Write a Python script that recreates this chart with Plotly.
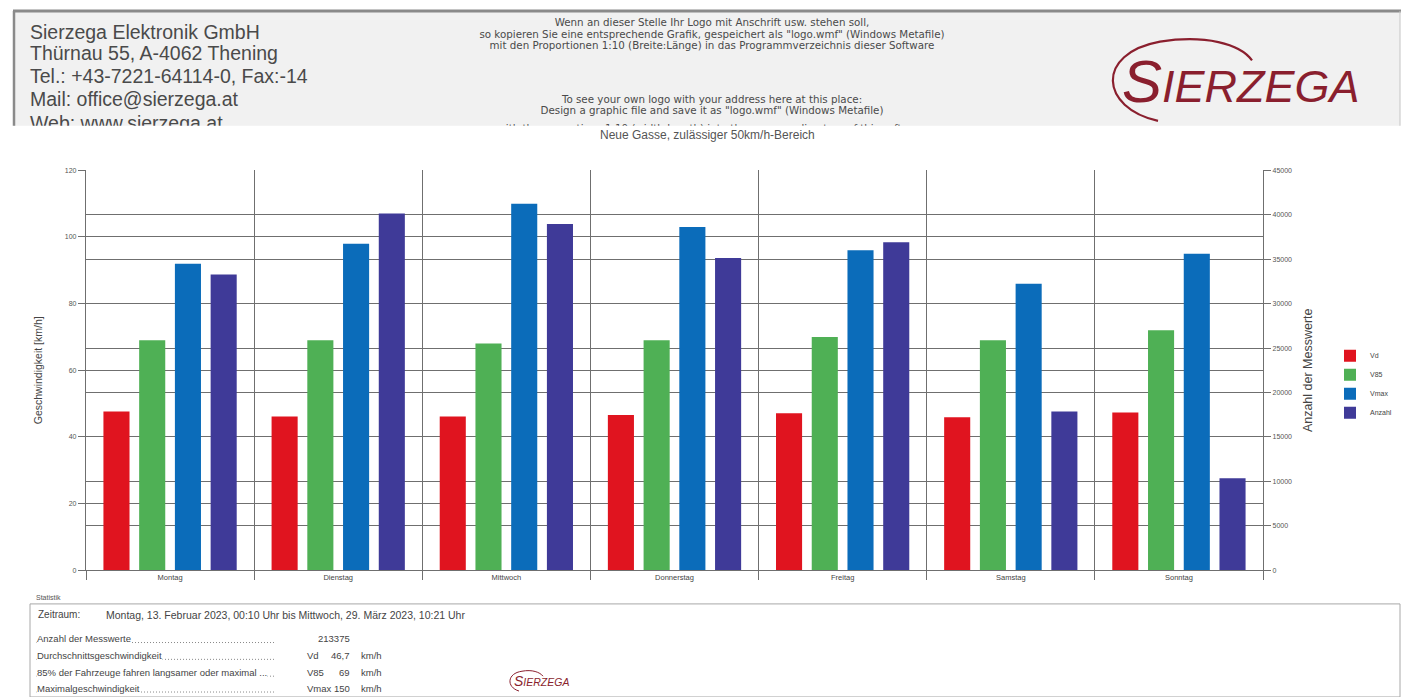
import plotly.graph_objects as go

W, H = 1410, 697

# ---------------- data ----------------
days = ["Montag", "Dienstag", "Mittwoch", "Donnerstag", "Freitag", "Samstag", "Sonntag"]
vd = [47.6, 46.1, 46.1, 46.6, 47.1, 45.9, 47.3]
v85 = [69, 69, 68, 69, 70, 69, 72]
vmax = [92, 98, 110, 103, 96, 86, 95]
anzahl = [33270, 40130, 38950, 35120, 36900, 17860, 10360]

series_names = ["Vd", "V85", "Vmax", "Anzahl"]
series_colors = ["#e0141f", "#4fb055", "#0b6cba", "#3f3a98"]

header_left = ["Sierzega Elektronik GmbH", "Thürnau 55, A-4062 Thening",
               "Tel.: +43-7221-64114-0, Fax:-14", "Mail: office@sierzega.at",
               "Web: www.sierzega.at"]
header_mid = ["Wenn an dieser Stelle Ihr Logo mit Anschrift usw. stehen soll,",
              "so kopieren Sie eine entsprechende Grafik, gespeichert als \"logo.wmf\" (Windows Metafile)",
              "mit den Proportionen 1:10 (Breite:Länge) in das Programmverzeichnis dieser Software",
              "To see your own logo with your address here at this place:",
              "Design a graphic file and save it as \"logo.wmf\" (Windows Metafile)",
              "with the proportions 1:10 (width:length) into the program directory of this software"]
chart_title = "Neue Gasse, zulässiger 50km/h-Bereich"

stat_period_label = "Zeitraum:"
stat_period = "Montag, 13. Februar 2023, 00:10 Uhr bis Mittwoch, 29. März 2023, 10:21 Uhr"
stat_labels = ["Anzahl der Messwerte", "Durchschnittsgeschwindigkeit",
               "85% der Fahrzeuge fahren langsamer oder maximal ...", "Maximalgeschwindigkeit"]
stat_symbols = ["", "Vd", "V85", "Vmax"]
stat_values = ["213375", "46,7", "69", "150"]
stat_units = ["", "km/h", "km/h", "km/h"]

FONT = "Liberation Sans"
LOGO_RED = "#8a1f2e"


def px(x):
    return x / W


def py(y):
    return 1 - y / H


fig = go.Figure()

# ---------------- bars ----------------
vals = [vd, v85, vmax, anzahl]
for i, (name, col, v) in enumerate(zip(series_names, series_colors, vals)):
    fig.add_trace(go.Bar(
        x=days, y=v, name=name, marker=dict(color=col, line=dict(width=0)),
        yaxis="y2" if name == "Anzahl" else "y",
        offsetgroup=str(i), alignmentgroup="g",
        hovertemplate=name + ": %{y}<extra></extra>",
    ))

# ---------------- header text (clipped subplot) ----------------
fig.add_trace(go.Scatter(
    x=[30] * len(header_left), y=[30, 52, 75, 98, 122], text=header_left,
    mode="text", textposition="middle right",
    textfont=dict(family=FONT, size=19.5, color="#4a4a4a"),
    xaxis="x3", yaxis="y3", showlegend=False, hoverinfo="skip", cliponaxis=True,
))
fig.add_trace(go.Scatter(
    x=[712] * len(header_mid), y=[20, 31.5, 43, 97, 108.5, 127], text=header_mid,
    mode="text", textposition="middle center",
    textfont=dict(family="DejaVu Sans", size=10.3, color="#4a4a4a"),
    xaxis="x3", yaxis="y3", showlegend=False, hoverinfo="skip", cliponaxis=True,
))

shapes = []
# header box
shapes.append(dict(type="rect", xref="paper", yref="paper", x0=px(14), x1=px(1400),
                   y0=py(123), y1=py(7), fillcolor="#f1f1f1", line=dict(width=0), layer="below"))
shapes.append(dict(type="line", xref="paper", yref="paper", x0=px(13), x1=px(1401),
                   y0=py(7), y1=py(7), line=dict(color="#8a8a8a", width=3)))
shapes.append(dict(type="line", xref="paper", yref="paper", x0=px(14), x1=px(14),
                   y0=py(7), y1=py(123), line=dict(color="#8a8a8a", width=2.5)))
shapes.append(dict(type="line", xref="paper", yref="paper", x0=px(1400), x1=px(1400),
                   y0=py(7), y1=py(123), line=dict(color="#c4c4c4", width=1)))


def swoosh(pts, color, width):
    (x0, y0), (c1x, c1y), (c2x, c2y), (mx, my), (c3x, c3y), (c4x, c4y), (x1, y1) = pts
    p = lambda a, b: f"{px(a):.5f},{py(b):.5f}"
    path = (f"M {p(x0, y0)} C {p(c1x, c1y)} {p(c2x, c2y)} {p(mx, my)} "
            f"C {p(c3x, c3y)} {p(c4x, c4y)} {p(x1, y1)}")
    return dict(type="path", xref="paper", yref="paper", path=path,
                line=dict(color=color, width=width))


# big logo swoosh
shapes.append(swoosh([(1158, 118), (1100, 105), (1095, 50), (1160, 38),
                      (1205, 31), (1240, 40), (1252, 57)], LOGO_RED, 2.2))
# small logo swoosh
shapes.append(swoosh([(519, 694), (506, 690), (507, 676), (522, 674),
                      (532, 672), (540, 675), (543, 679)], LOGO_RED, 1))

# statistics box
shapes.append(dict(type="rect", xref="paper", yref="paper", x0=px(30), x1=px(1400),
                   y0=py(700), y1=py(606), line=dict(color="#a8a8a8", width=1),
                   fillcolor="rgba(0,0,0,0)"))
row_y = [641, 658, 675, 691]
for yy in row_y:
    shapes.append(dict(type="line", xref="paper", yref="paper", x0=px(36), x1=px(275),
                       y0=py(yy + 4), y1=py(yy + 4),
                       line=dict(color="#8a8a8a", width=1, dash="1px,2px")))


annotations = []


def ann(x, y, text, size, color="#4a4a4a", xanchor="left", **kw):
    annotations.append(dict(x=px(x), y=py(y), xref="paper", yref="paper", text=text,
                            showarrow=False, xanchor=xanchor, yanchor="middle",
                            font=dict(family=FONT, size=size, color=color), **kw))


# logos
ann(1120, 78, "<i><span style='font-size:60px'>S</span>IERZEGA</i>", 45, LOGO_RED)
ann(512, 684, "<i><span style='font-size:14px'>S</span>IERZEGA</i>", 10.5, LOGO_RED)

# chart title
ann(708, 132, chart_title, 12, "#555555", xanchor="center")

# statistics texts
ann(34, 600, "Statistik", 7, "#555555")
ann(36, 617, stat_period_label, 10, "#444444")
ann(104, 617, stat_period, 10.5, "#444444")
for yy, lab, sym, val, unit in zip(row_y, stat_labels, stat_symbols, stat_values, stat_units):
    ann(36, yy, lab, 9.5, "#444444", bgcolor="white", borderpad=0)
    if sym:
        ann(305, yy, sym, 9.5, "#444444")
    ann(352, yy, val, 9.5, "#444444", xanchor="right")
    if unit:
        ann(359, yy, unit, 9.5, "#444444")

GRID = "#6f6f6f"
fig.update_layout(
    width=W, height=H,
    margin=dict(l=0, r=0, t=0, b=0),
    paper_bgcolor="white", plot_bgcolor="rgba(0,0,0,0)",
    barmode="group", bargap=0.15, bargroupgap=0.27,
    font=dict(family=FONT, color="#444444"),
    shapes=shapes, annotations=annotations,
    showlegend=True,
    legend=dict(x=px(1330), y=py(384), xanchor="left", yanchor="middle",
                font=dict(size=7, color="#444444", family=FONT),
                bgcolor="rgba(0,0,0,0)", itemwidth=30, tracegroupgap=0),
    xaxis=dict(domain=[px(86), px(1263)], type="category", tickson="boundaries",
               showgrid=True, gridcolor=GRID, gridwidth=1,
               ticks="outside", ticklen=9, tickcolor=GRID,
               showline=True, linecolor=GRID, linewidth=1.2,
               tickfont=dict(size=7.5, color="#444444"), anchor="y", fixedrange=True),
    yaxis=dict(domain=[py(572), py(168)], range=[0, 120], dtick=20,
               showgrid=True, gridcolor=GRID, gridwidth=1.2, zeroline=False,
               ticks="outside", ticklen=7, tickcolor=GRID,
               showline=True, linecolor=GRID, linewidth=1.2,
               tickfont=dict(size=7, color="#555555"),
               title=dict(text="Geschwindigkeit [km/h]", font=dict(size=10.5, color="#444444"),
                          standoff=20),
               anchor="x", fixedrange=True),
    yaxis2=dict(overlaying="y", side="right", range=[0, 45000], dtick=5000, tickformat="d",
                showgrid=True, gridcolor=GRID, gridwidth=1.2, zeroline=False,
                ticks="outside", ticklen=7, tickcolor=GRID,
                showline=True, linecolor=GRID, linewidth=1.2,
                tickfont=dict(size=7, color="#555555"),
                title=dict(text="Anzahl der Messwerte", font=dict(size=12.5, color="#444444"),
                           standoff=12),
                anchor="x", fixedrange=True),
    xaxis3=dict(domain=[0, 1], range=[0, W], visible=False, anchor="y3", fixedrange=True),
    yaxis3=dict(domain=[py(123), 1], range=[123, 0], visible=False, anchor="x3", fixedrange=True),
)

fig.write_html("out.html", config={"displayModeBar": False},
               post_script="document.body.style.margin='0';document.body.style.overflow='hidden';")
